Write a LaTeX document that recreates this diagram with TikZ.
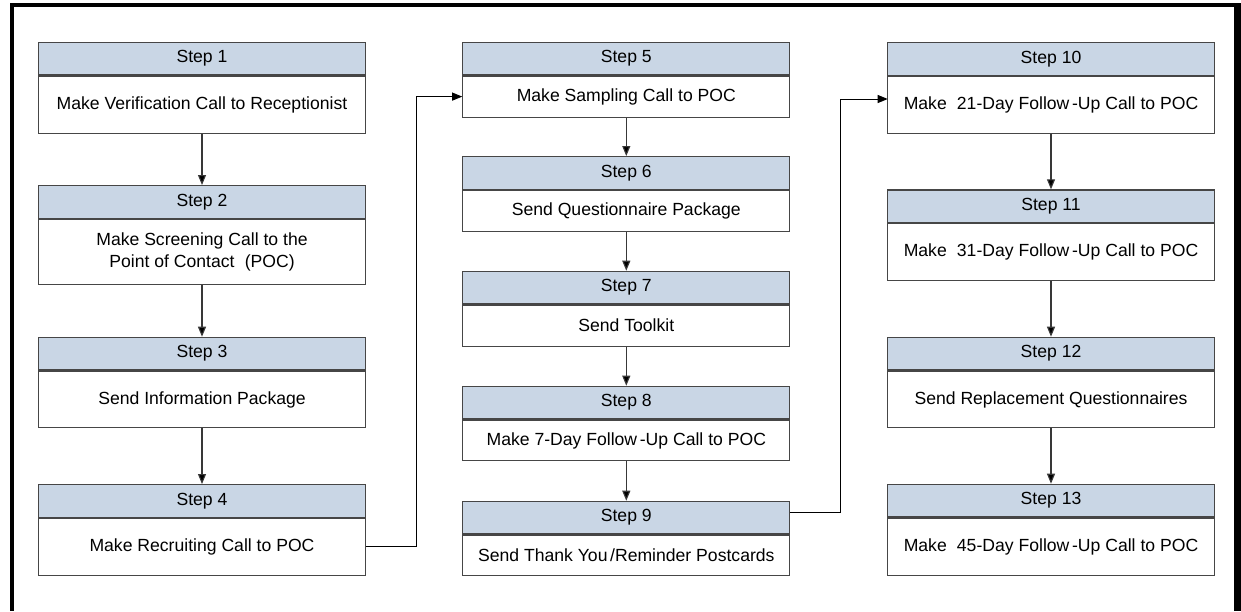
\documentclass[tikz,border=0pt]{standalone}
\usepackage{fontspec}
\setmainfont{Liberation Sans}
\usetikzlibrary{arrows.meta}
\definecolor{headblue}{RGB}{201,214,229}
\definecolor{edgegray}{RGB}{70,70,70}
\begin{document}
\begin{tikzpicture}[x=1pt,y=-1pt,
  head/.style={draw=edgegray,line width=1.2pt,fill=headblue,rectangle,inner sep=0pt,
    minimum width=327pt,minimum height=32.6pt,anchor=north,font=\fontsize{17.6}{21}\selectfont},
  body/.style={draw=edgegray,line width=1.2pt,fill=white,rectangle,inner sep=0pt,
    minimum width=327pt,anchor=north,align=center,font=\fontsize{17.6}{22}\selectfont},
  down/.style={draw=edgegray!80!black,line width=1.1pt,-{Triangle[length=10pt,width=8pt,fill=black]}},
  link/.style={draw=black,line width=0.9pt,-{Triangle[length=10pt,width=8pt,fill=black]}}]
\useasboundingbox (0,0) rectangle (1241,611);
\fill[white] (0,0) rectangle (1241,611);
% outer frame
\fill[black] (10,3.3) rectangle (13.6,611);
\fill[black] (10,3.3) rectangle (1241,7.3);
\fill[black] (1234,3.3) rectangle (1241,611);
% column 1
\node[head] (h1) at (202,41.7) {Step 1};
\node[body,minimum height=57.4pt] (b1) at (h1.south) {Make Verification Call to Receptionist};
\node[head] (h2) at (202,185) {Step 2};
\node[body,minimum height=65pt] (b2) at (h2.south) {Make Screening Call to the\\Point of Contact\hspace{0.3em} (POC)};
\node[head] (h3) at (202,336.7) {Step 3};
\node[body,minimum height=56.7pt] (b3) at (h3.south) {Send Information Package};
\node[head] (h4) at (202,484) {Step 4};
\node[body,minimum height=57pt] (b4) at (h4.south) {Make Recruiting Call to POC};
% column 2
\node[head] (h5) at (626.3,41.7) {Step 5};
\node[body,minimum height=41pt] (b5) at (h5.south) {Make Sampling Call to POC};
\node[head] (h6) at (626.3,156) {Step 6};
\node[body,minimum height=41pt] (b6) at (h6.south) {Send Questionnaire Package};
\node[head] (h7) at (626.3,270.7) {Step 7};
\node[body,minimum height=41pt] (b7) at (h7.south) {Send Toolkit};
\node[head] (h8) at (626.3,385.7) {Step 8};
\node[body,minimum height=40.7pt] (b8) at (h8.south) {Make 7-Day Follow\hspace{0.15em}-Up Call to POC};
\node[head] (h9) at (626.3,500.7) {Step 9};
\node[body,minimum height=40.3pt] (b9) at (h9.south) {Send Thank You\hspace{0.15em}/Reminder Postcards};
% column 3
\node[head] (h10) at (1051,42) {Step 10};
\node[body,minimum height=56.7pt] (b10) at (h10.south) {Make\hspace{0.3em} 21-Day Follow\hspace{0.15em}-Up Call to POC};
\node[head] (h11) at (1051,189.3) {Step 11};
\node[body,minimum height=57pt] (b11) at (h11.south) {Make\hspace{0.3em} 31-Day Follow\hspace{0.15em}-Up Call to POC};
\node[head] (h12) at (1051,336.7) {Step 12};
\node[body,minimum height=56.7pt] (b12) at (h12.south) {Send Replacement Questionnaires};
\node[head] (h13) at (1051,483.7) {Step 13};
\node[body,minimum height=57pt] (b13) at (h13.south) {Make\hspace{0.3em} 45-Day Follow\hspace{0.15em}-Up Call to POC};
% vertical arrows
\draw[down] (b1.south) -- (h2.north);
\draw[down] (b2.south) -- (h3.north);
\draw[down] (b3.south) -- (h4.north);
\draw[down] (b5.south) -- (h6.north);
\draw[down] (b6.south) -- (h7.north);
\draw[down] (b7.south) -- (h8.north);
\draw[down] (b8.south) -- (h9.north);
\draw[down] (b10.south) -- (h11.north);
\draw[down] (b11.south) -- (h12.north);
\draw[down] (b12.south) -- (h13.north);
% column links
\draw[link] (b4.east) -- ++(50,0) |- (b5.west);
\coordinate (o9) at (790,512.3);
\coordinate (k9) at (840,512.3);
\coordinate (i10) at (887.7,99);
\draw[link] (o9) -- (k9) |- (i10);
\end{tikzpicture}
\end{document}
